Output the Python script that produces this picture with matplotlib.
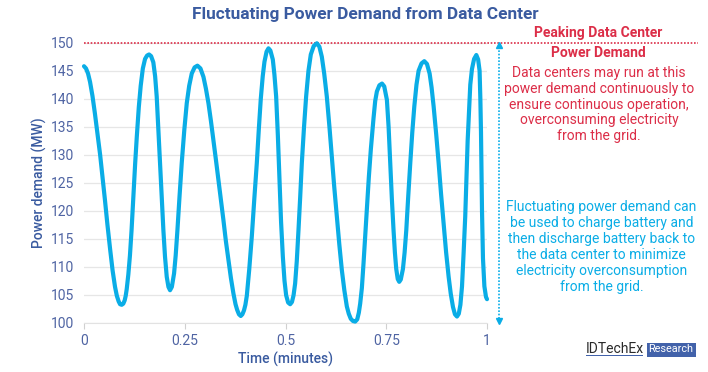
import numpy as np
import matplotlib
matplotlib.use('Agg')
from matplotlib import pyplot as plt
import matplotlib.transforms as mtransforms
from matplotlib.patches import Rectangle

plt.rcParams['font.family'] = ['Roboto', 'DejaVu Sans']

#%% Data
time_min = [0.0, 0.005, 0.010, 0.015, 0.021, 0.027, 0.033, 0.040, 0.046, 0.052, 0.058,
            0.065, 0.071, 0.077, 0.0815, 0.086, 0.0895, 0.0936, 0.0975, 0.101, 0.1035,
            0.106, 0.110, 0.114, 0.118, 0.1225, 0.127, 0.131, 0.136, 0.1407, 0.146,
            0.1515, 0.1565, 0.1614, 0.1665, 0.172, 0.1765, 0.1804, 0.1845, 0.1887,
            0.193, 0.197, 0.201, 0.2053, 0.2095, 0.2135, 0.218, 0.2235, 0.2275, 0.2318,
            0.237, 0.2425, 0.249, 0.255, 0.261, 0.2674, 0.2745, 0.2815, 0.289, 0.2964,
            0.3025, 0.3088, 0.315, 0.3212, 0.3275, 0.3336, 0.340, 0.346, 0.352, 0.3584,
            0.3645, 0.3708, 0.376, 0.380, 0.3845, 0.389, 0.393, 0.397, 0.4005, 0.404,
            0.410, 0.4164, 0.4225, 0.4288, 0.434, 0.4387, 0.4435, 0.4478, 0.453, 0.4578,
            0.4625, 0.4685, 0.4725, 0.4768, 0.481, 0.4851, 0.489, 0.4934, 0.4975, 0.5016,
            0.5065, 0.5116, 0.516, 0.520, 0.5239, 0.528, 0.5322, 0.5365, 0.5405, 0.546,
            0.5512, 0.557, 0.5628, 0.570, 0.5778, 0.584, 0.5901, 0.596, 0.6025, 0.609,
            0.615, 0.621, 0.6274, 0.6335, 0.6398, 0.646, 0.6522, 0.657, 0.662, 0.6675,
            0.6729, 0.678, 0.682, 0.6853, 0.6895, 0.6936, 0.6978, 0.7019, 0.7068, 0.7118,
            0.7184, 0.7226, 0.7268, 0.733, 0.7395, 0.745, 0.7516, 0.7558, 0.7599, 0.764,
            0.7681, 0.7715, 0.7748, 0.7785, 0.7822, 0.786, 0.7914, 0.7955, 0.7997, 0.8045,
            0.8096, 0.8146, 0.8196, 0.825, 0.8303, 0.8375, 0.8444, 0.851, 0.8576, 0.8625,
            0.8676, 0.874, 0.880, 0.886, 0.8924, 0.8985, 0.9048, 0.910, 0.9156, 0.9205,
            0.9255, 0.930, 0.934, 0.938, 0.942, 0.946, 0.949, 0.952, 0.9555, 0.9585,
            0.9627, 0.968, 0.9735, 0.978, 0.9816, 0.9835, 0.9851, 0.9876, 0.990, 0.9935,
            0.9975, 1.0]
power_mw = [145.8, 145.4, 144.5, 143.0, 140.5, 137.4, 134.0, 130.0, 126.0, 121.9, 117.6,
            113.0, 109.3, 106.4, 104.8, 103.8, 103.3, 103.2, 103.4, 104.0, 104.8,
            106.0, 108.6, 112.0, 116.5, 122.5, 128.5, 133.2, 138.5, 142.3, 145.4,
            147.1, 147.7, 147.9, 147.6, 146.5, 144.0, 140.4, 134.5, 128.5,
            122.0, 116.5, 111.8, 108.2, 106.4, 105.8, 106.4, 108.8, 112.0, 116.5,
            122.5, 128.5, 134.5, 139.2, 142.3, 144.5, 145.6, 145.9, 145.4, 143.9,
            141.8, 139.2, 136.0, 132.6, 129.0, 125.5, 121.8, 118.3, 114.6, 111.2,
            108.0, 105.2, 103.3, 102.3, 101.5, 101.2, 101.5, 102.2, 103.2, 104.8,
            109.5, 115.4, 122.0, 128.5, 134.8, 140.0, 144.0, 146.6, 148.4, 149.0,
            148.6, 147.0, 144.3, 140.4, 133.5, 125.5, 118.0, 111.8, 107.5, 104.9,
            103.6, 103.3, 103.7, 104.9, 107.0, 111.0, 116.5, 122.5, 128.5, 135.0,
            140.4, 145.0, 147.9, 149.4, 149.9, 149.3, 147.5, 144.5, 140.4, 135.0,
            129.6, 124.2, 118.9, 114.0, 109.4, 105.8, 102.9, 101.6, 100.7, 100.3,
            100.2, 100.6, 101.8, 103.4, 106.2, 110.6, 115.5, 120.5, 126.0, 131.0,
            136.5, 139.6, 141.3, 142.4, 142.7, 142.2, 139.8, 135.0, 128.5, 122.0,
            116.5, 112.5, 109.6, 107.8, 107.3, 107.7, 109.6, 112.5, 116.5, 122.5,
            128.5, 134.0, 138.6, 142.5, 145.0, 146.3, 146.7, 146.2, 144.5, 142.0,
            138.6, 133.6, 128.5, 123.0, 117.7, 112.6, 108.2, 105.2, 102.8, 101.5,
            101.1, 101.6, 103.2, 106.5, 112.5, 119.0, 126.0, 132.5, 138.0, 142.5,
            145.3, 147.1, 147.8, 147.0, 145.0, 140.0, 134.0, 120.0, 111.5, 106.5,
            104.6, 104.2]
peak_demand = 150

y_ticks = [100, 105, 110, 115, 120, 125, 130, 135, 140, 145, 150]
x_ticks = [0, 0.25, 0.5, 0.75, 1]
x_ticklabels = ['0', '0.25', '0.5', '0.75', '1']

red_title = 'Peaking Data Center'
red_title2 = 'Power Demand'
red_text = ('Data centers may run at this\npower demand continuously to\n'
            'ensure continuous operation,\noverconsuming electricity\nfrom the grid.')
blue_text = ('Fluctuating power demand can\nbe used to charge battery and\n'
             'then discharge battery back to\nthe data center to minimize\n'
             'electricity overconsumption\nfrom the grid.')

# colours
c_line = '#0AADE6'
c_red = '#DC2E48'
c_navy = '#3A5BA0'
c_tick = '#4F64A3'

W, H = 708, 372
def px(x, y):
    # pixel position (from top-left) to figure fraction
    return x / W, 1 - y / H

#%% Figure
fig = plt.figure(figsize=(W / 100, H / 100), dpi=100)
ax = fig.add_axes([84 / W, 1 - 322.7 / H, 403 / W, 280 / H])

ax.plot(time_min, power_mw, color=c_line, lw=3, solid_capstyle='round',
        solid_joinstyle='round', clip_on=False, zorder=3)

ax.set_xlim(0, 1)
ax.set_ylim(100, 150)
ax.set_yticks(y_ticks)
ax.set_xticks(x_ticks)
ax.set_xticklabels(x_ticklabels)
ax.yaxis.grid(True, color='#E6E6E6', lw=0.9)
ax.set_axisbelow(True)
for s in ['top', 'right', 'left']:
    ax.spines[s].set_visible(False)
ax.spines['bottom'].set_color('#E2E2E2')
ax.tick_params(axis='y', length=0, labelsize=10, labelcolor=c_tick, pad=7)
ax.tick_params(axis='x', length=4, color='#D0D0D0', labelsize=10, labelcolor=c_tick, pad=4)

ax.set_ylabel('Power demand (MW)', fontsize=10, color=c_navy, fontweight='medium', labelpad=3)
ax.set_xlabel('Time (minutes)', fontsize=10, color=c_navy, fontweight='medium', labelpad=3)

# peak demand line stretching over the annotation area
ax.axhline(peak_demand, xmin=0, xmax=1.524, color=c_red, lw=1.2, ls=(0, (1, 1)),
           clip_on=False, zorder=2)

# dotted double arrow showing the fluctuation range
trans = mtransforms.blended_transform_factory(ax.transAxes, ax.transData)
lo, hi = min(power_mw), max(power_mw)
ax.plot([1.03, 1.03], [lo, hi - 0.6], transform=trans, color=c_line, lw=1.2,
        ls=(0, (1, 1)), clip_on=False)
ax.plot([1.03], [hi - 0.3], transform=trans, marker='^', color=c_line, ms=4, clip_on=False)
ax.plot([1.03], [lo + 0.1], transform=trans, marker='v', color=c_line, ms=4, clip_on=False)

# title
fig.text(*px(365, 14), 'Fluctuating Power Demand from Data Center', ha='center', va='center',
         fontsize=12.4, fontweight='bold', color=c_navy)

# annotations
fig.text(*px(598, 33), red_title, ha='center', va='center', fontsize=10,
         fontweight='bold', color=c_red)
fig.text(*px(598, 53), red_title2, ha='center', va='center', fontsize=10,
         fontweight='bold', color=c_red)
fig.text(*px(599, 104.5), red_text, ha='center', va='center', fontsize=10,
         color=c_red, linespacing=1.17)
fig.text(*px(601.5, 247), blue_text, ha='center', va='center', fontsize=10,
         color=c_line, linespacing=1.17)

# logo
fig.text(*px(586, 349), 'IDTechEx', ha='left', va='center', fontsize=10,
         color='#2A2A2A')
fig.add_artist(Rectangle(px(586, 355.5), 56.5 / W, 1.0 / H, transform=fig.transFigure,
                         facecolor='#4262AA', edgecolor='none'))
fig.add_artist(Rectangle(px(646.5, 357), 49 / W, 14.5 / H, transform=fig.transFigure,
                         facecolor='#4262AA', edgecolor='none'))
fig.text(*px(671, 349.5), 'Research', ha='center', va='center', fontsize=7.8, color='white')

fig.savefig('out.png', dpi=100)
